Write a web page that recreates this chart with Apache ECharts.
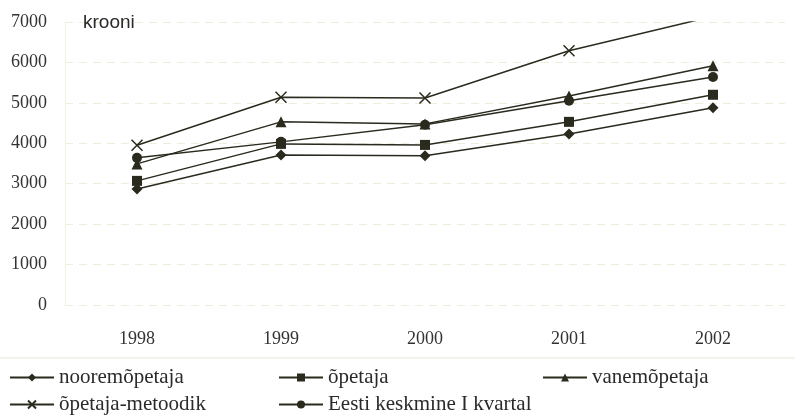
<!DOCTYPE html>
<html>
<head>
<meta charset="utf-8">
<script src="https://cdn.jsdelivr.net/npm/echarts@6/dist/echarts.min.js"></script>
<style>
  html, body { margin: 0; padding: 0; background: #fff; }
  #chart { width: 795px; height: 419px; }
</style>
</head>
<body>
<div id="chart"></div>
<script>
// years on the x axis
const years = ['1998', '1999', '2000', '2001', '2002'];
// monthly salary, krooni
const nooremopetaja = [2870, 3710, 3690, 4230, 4880];
const opetaja = [3070, 3985, 3960, 4530, 5200];
const vanemopetaja = [3490, 4530, 4480, 5170, 5920];
const metoodik = [3950, 5140, 5120, 6290, 7140];
const eestiKeskmine = [3640, 4035, 4460, 5050, 5640];

const ink = '#2b2a1f';
const serif = '"Liberation Serif", "DejaVu Serif", serif';
const crossPath = 'path://M0,0L10,10M10,0L0,10';

const chart = echarts.init(document.getElementById('chart'));

function line(name, data, symbol, size, extra) {
  return Object.assign({
    name: name,
    type: 'line',
    data: data,
    symbol: symbol,
    symbolSize: size,
    clip: true,
    lineStyle: { color: ink, width: 1.5 },
    itemStyle: { color: ink },
    animation: false
  }, extra || {});
}

// one legend per entry so the two-row, three-column layout matches
function legendAt(name, left, top) {
  return {
    left: left, top: top, padding: 0,
    itemWidth: 44, itemHeight: 10, itemGap: 6,
    textStyle: { fontFamily: serif, fontSize: 21, color: '#2a2a2a' },
    data: [name]
  };
}

const option = {
  backgroundColor: '#fff',
  grid: { left: 65, right: 10, top: 22, bottom: 114 },
  xAxis: {
    type: 'category',
    data: years,
    boundaryGap: true,
    axisLine: { show: false },
    axisTick: { show: false },
    axisLabel: { fontFamily: serif, fontSize: 18, color: '#333', margin: 25 }
  },
  yAxis: {
    type: 'value',
    min: 0,
    max: 7000,
    interval: 1000,
    axisLine: { show: true, lineStyle: { color: '#f1f0e2', width: 1 } },
    axisTick: { show: false },
    axisLabel: { fontFamily: serif, fontSize: 18, color: '#333', margin: 18,
      formatter: function (v) { return String(v); } },
    splitLine: { lineStyle: { color: '#efeedd', type: [8, 6], width: 1 } }
  },
  legend: [
    legendAt('nooremõpetaja', 9, 367),
    legendAt('õpetaja-metoodik', 9, 394),
    legendAt('õpetaja', 278, 367),
    legendAt('Eesti keskmine I kvartal', 278, 394),
    legendAt('vanemõpetaja', 542, 367)
  ],
  graphic: [
    { type: 'text', left: 83, top: 13, z: 100,
      style: { text: 'krooni', font: '19px "Liberation Sans", Arial, sans-serif', fill: '#2a2a2a' } },
    { type: 'line', shape: { x1: 0, y1: 358, x2: 795, y2: 358 },
      style: { stroke: '#f0efe2', lineWidth: 1.5 } }
  ],
  series: [
    line('nooremõpetaja', nooremopetaja, 'diamond', 11),
    line('õpetaja', opetaja, 'rect', 10),
    line('vanemõpetaja', vanemopetaja, 'triangle', 11),
    line('õpetaja-metoodik', metoodik, crossPath, 11, {
      itemStyle: { color: ink, borderColor: ink, borderWidth: 1.5 }
    }),
    line('Eesti keskmine I kvartal', eestiKeskmine, 'circle', 10)
  ]
};

chart.setOption(option);
</script>
</body>
</html>
